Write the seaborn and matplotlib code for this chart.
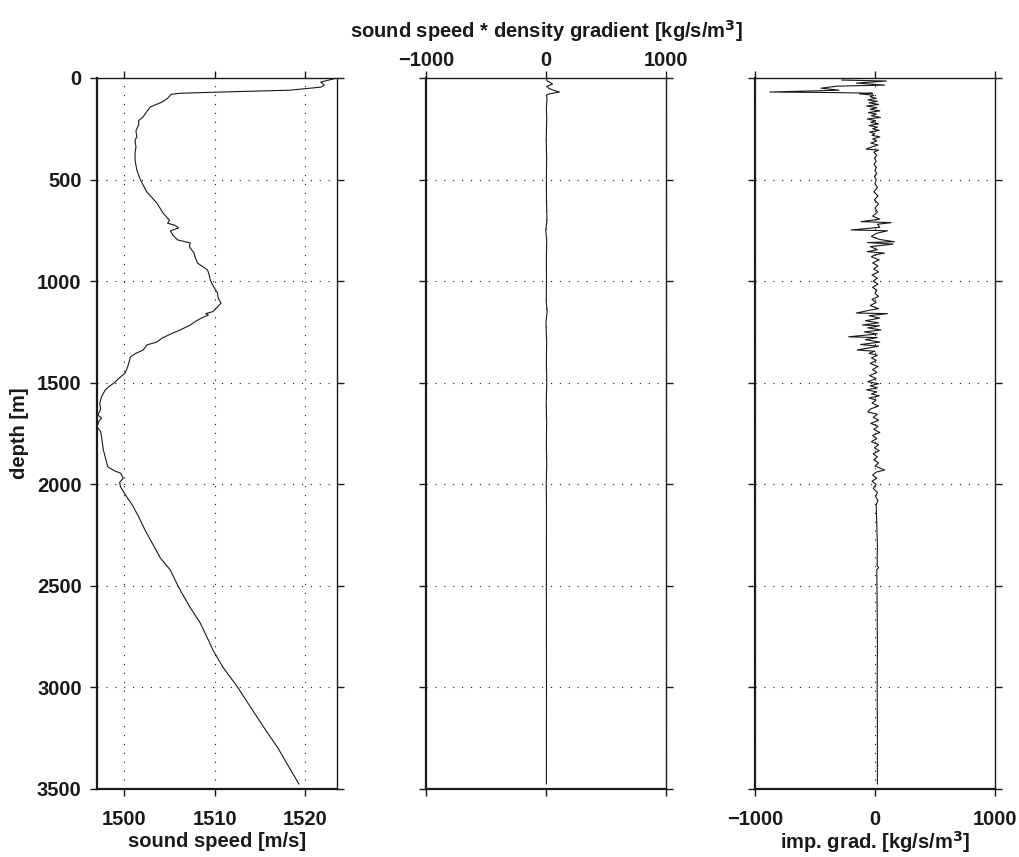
import matplotlib
matplotlib.use('Agg')
import matplotlib.pyplot as plt
import seaborn as sns

# sound speed profile (depth [m], speed [m/s])
speed_depth = [0, 20, 35, 45, 60, 70, 75, 80, 100, 118, 142, 165, 191, 210, 231, 260, 290, 305,
               340, 370, 404, 453, 502, 561, 615, 665, 700, 715, 725, 738, 753, 775, 797, 812,
               830, 861, 890, 911, 945, 970, 994, 1030, 1058, 1085, 1108, 1127, 1150, 1160,
               1167, 1180, 1200, 1216, 1240, 1255, 1280, 1300, 1314, 1339, 1355, 1373, 1420,
               1453, 1475, 1497, 1520, 1536, 1570, 1600, 1630, 1659, 1674, 1690, 1718, 1740,
               1767, 1800, 1830, 1865, 1915, 1935, 1945, 1970, 1990, 2013, 2050, 2102, 2160,
               2225, 2290, 2363, 2422, 2506, 2600, 2683, 2767, 2816, 2900, 2997, 3100, 3195,
               3300, 3400, 3476]
speed = [1523.5, 1521.7, 1522.1, 1521.7, 1518.3, 1510.0, 1506.2, 1505.2, 1504.8, 1504.2,
         1502.9, 1502.5, 1502.1, 1501.6, 1501.6, 1501.3, 1501.4, 1501.2, 1501.3, 1501.2,
         1501.2, 1501.4, 1501.8, 1502.5, 1503.6, 1504.3, 1505.0, 1504.8, 1505.6, 1506.0,
         1505.1, 1505.4, 1505.9, 1507.3, 1507.2, 1507.7, 1507.9, 1508.1, 1509.2, 1509.4,
         1509.5, 1509.9, 1510.3, 1510.4, 1510.7, 1510.3, 1509.8, 1509.0, 1509.3, 1508.6,
         1507.8, 1507.3, 1506.2, 1505.4, 1504.2, 1503.6, 1502.5, 1502.1, 1501.3, 1500.7,
         1500.4, 1500.1, 1499.5, 1499.0, 1498.3, 1497.9, 1497.5, 1497.3, 1497.4, 1497.1,
         1497.5, 1497.2, 1497.0, 1497.4, 1497.5, 1497.6, 1497.7, 1497.9, 1498.2, 1499.0,
         1499.6, 1499.9, 1499.5, 1499.6, 1500.1, 1500.9, 1501.6, 1502.3, 1503.1, 1504.0,
         1505.1, 1506.0, 1507.2, 1508.4, 1509.3, 1509.8, 1510.9, 1512.5, 1514.0, 1515.4,
         1517.0, 1518.3, 1519.3]

# sound speed * density gradient
cdrho_depth = [0, 15, 20, 30, 40, 50, 60, 69, 78, 84, 100, 150, 200, 300, 400, 500, 600, 700,
               750, 800, 900, 1000, 1100, 1150, 1200, 1300, 1400, 1500, 1600, 1700, 1800,
               1900, 2000, 2100, 2500, 3000, 3476]
cdrho = [0, 10, 30, 54, 12, 20, 60, 112, 30, 4, 8, 3, 6, 2, 5, 3, 4, 8, -2, 6, 3, 4, 2, 10, 0,
         5, 3, 6, 2, 5, 3, 6, 2, 4, 3, 4, 3]

# impedance gradient
imp_depth = [10, 15, 25, 35, 40, 50, 60, 69, 72, 75, 78, 85, 92, 100, 108, 115, 122, 130, 138,
             146, 154, 162, 170, 178, 186, 194, 202, 210, 218, 226, 234, 242, 250, 258, 266,
             274, 282, 290, 300, 310, 320, 330, 340, 350, 355, 365, 380, 395, 410, 425, 440,
             455, 470, 485, 500, 520, 540, 560, 580, 600, 620, 640, 660, 680, 695, 707, 712,
             720, 735, 748, 752, 765, 780, 795, 806, 810, 818, 830, 845, 855, 862, 870, 880,
             895, 910, 925, 940, 955, 970, 985, 1000, 1015, 1030, 1045, 1060, 1075, 1090,
             1105, 1120, 1135, 1145, 1157, 1160, 1170, 1182, 1195, 1205, 1216, 1220, 1230,
             1240, 1250, 1260, 1274, 1278, 1288, 1300, 1312, 1320, 1330, 1339, 1345, 1355,
             1365, 1378, 1390, 1405, 1420, 1435, 1450, 1465, 1480, 1495, 1505, 1515, 1525,
             1535, 1545, 1555, 1565, 1575, 1585, 1600, 1615, 1630, 1644, 1655, 1670, 1685,
             1700, 1715, 1730, 1745, 1760, 1775, 1790, 1805, 1820, 1835, 1850, 1865, 1880,
             1895, 1910, 1930, 1940, 1955, 1970, 1985, 2000, 2020, 2040, 2060, 2080, 2100,
             2200, 2300, 2400, 2410, 2420, 2600, 2800, 3000, 3200, 3476]
imp_grad = [-278, 95, -154, 80, -311, -450, -300, -876, -295, -21, -129, -10, -40, 10, -60, 20,
            -50, 30, -70, 15, -40, 40, -55, 10, -30, 45, -65, 5, -35, 30, -50, 20, -20, 35,
            -45, 0, -25, 40, -20, 15, -35, 25, -30, -75, 30, -10, 15, -5, 10, -8, 12, 0, 15,
            -5, 10, 0, 20, -10, 25, -5, 30, 0, 20, -20, 40, -115, 134, 20, 40, -198, 104, 10,
            -30, 40, 162, -62, 150, -40, 20, -65, 79, 0, -30, 35, -20, 25, -10, 30, -25, 20,
            -15, 25, -20, 15, 0, 30, -25, 10, -40, 30, -60, -156, 104, -50, 40, -80, 30,
            -104, 37, -60, 50, -90, 20, -220, 20, -80, 40, -120, 30, -60, -149, 0, -50, 20,
            -30, 10, -40, 25, -20, 15, -45, 10, -60, 30, -40, 20, -70, 15, -30, 35, -50, 10,
            -25, 30, -40, -60, 20, -15, 30, -35, 25, -10, 40, -20, 15, -30, 30, -5, 35, -15,
            20, -10, 30, 0, 80, 10, -20, 15, -25, 10, -15, 20, 5, 25, 10, 15, 20, 18, 30, 15,
            18, 20, 18, 20, 20]

depth_ticks = [0, 500, 1000, 1500, 2000, 2500, 3000, 3500]

sns.set_theme(style='ticks')
plt.rcParams['font.family'] = ['Liberation Sans', 'DejaVu Sans']
plt.rcParams['font.weight'] = 'bold'
plt.rcParams['axes.labelweight'] = 'bold'
plt.rcParams['text.color'] = 'k'
plt.rcParams['axes.labelcolor'] = 'k'
plt.rcParams['xtick.color'] = 'k'
plt.rcParams['ytick.color'] = 'k'

FS = 14.5
W, H = 1019, 857
fig = plt.figure(figsize=(W / 100, H / 100), dpi=100)
ax1 = fig.add_axes([97 / W, 1 - 789 / H, 240 / W, 711 / H])
ax2 = fig.add_axes([426 / W, 1 - 789 / H, 240 / W, 711 / H])
ax3 = fig.add_axes([755 / W, 1 - 789 / H, 240 / W, 711 / H])

sns.lineplot(x=speed, y=speed_depth, sort=False, estimator=None, color='k', linewidth=0.8, ax=ax1)
sns.lineplot(x=cdrho, y=cdrho_depth, sort=False, estimator=None, color='k', linewidth=0.8, ax=ax2)
sns.lineplot(x=imp_grad, y=imp_depth, sort=False, estimator=None, color='k', linewidth=0.8, ax=ax3)


def style(ax, xlim, xticks):
    ax.set_xlim(*xlim)
    ax.set_xticks(xticks)
    ax.set_ylim(3500, 0)
    ax.set_yticks(depth_ticks)
    ax.grid(True, color='k', linestyle=(0, (1, 7)), linewidth=0.8)
    ax.tick_params(direction='out', length=5, width=1, top=True, right=True,
                   labelsize=FS, colors='k')
    ax.tick_params(axis='y', pad=6)
    ax.tick_params(axis='x', which='major', pad=10)
    for side in ['left', 'bottom']:
        ax.spines[side].set_linewidth(1.6)
    for side in ['top', 'right']:
        ax.spines[side].set_linewidth(1.0)
    for s in ax.spines.values():
        s.set_visible(True)
        s.set_color('k')
    for lab in ax.get_xticklabels() + ax.get_yticklabels():
        lab.set_fontweight('bold')


style(ax1, (1497, 1523.5), [1500, 1510, 1520])
style(ax2, (-1000, 1000), [-1000, 0, 1000])
style(ax3, (-1000, 1000), [-1000, 0, 1000])

ax1.set_xlabel('sound speed [m/s]', fontsize=FS, fontweight='bold', labelpad=2)
ax1.set_ylabel('depth [m]', fontsize=FS, fontweight='bold', labelpad=6)

ax2.tick_params(labelleft=False, labelbottom=False, labeltop=True)
ax2.tick_params(axis='x', pad=0.5)
ax2.xaxis.set_label_position('top')
ax2.set_xlabel('sound speed * density gradient [kg/s/m$^\\mathbf{3}$]', fontsize=FS,
               fontweight='bold', labelpad=10)
ax2.set_ylabel('')

ax3.tick_params(labelleft=False)
ax3.set_xlabel('imp. grad. [kg/s/m$^\\mathbf{3}$]', fontsize=FS, fontweight='bold', labelpad=0.5)
ax3.set_ylabel('')

fig.savefig('out.png', dpi=100)
